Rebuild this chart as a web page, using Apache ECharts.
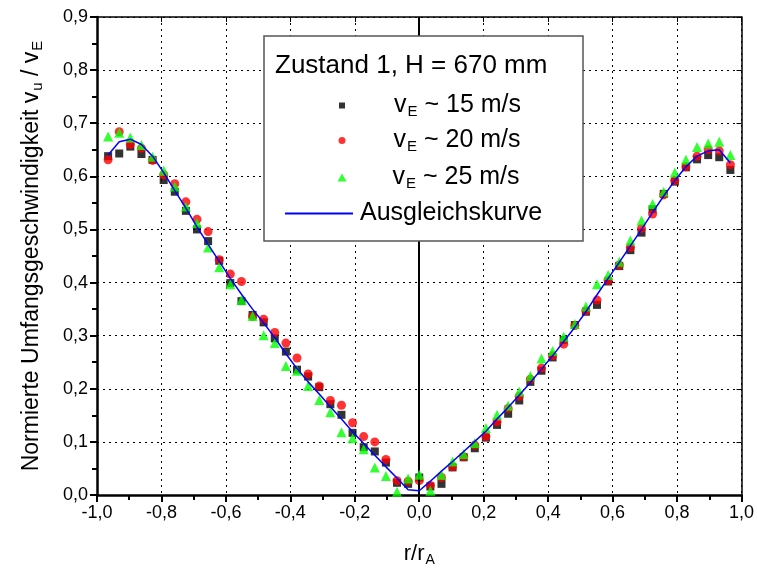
<!DOCTYPE html>
<html>
<head>
<meta charset="utf-8">
<script src="https://cdn.jsdelivr.net/npm/echarts@6/dist/echarts.min.js"></script>
<style>
html,body{margin:0;padding:0;background:#fff;}
#c{width:757px;height:574px;}
</style>
</head>
<body>
<div id="c"></div>
<script>
// r/rA positions (5 mm steps on 145 mm radius)
var xValues = [-0.9655,-0.9310,-0.8966,-0.8621,-0.8276,-0.7931,-0.7586,-0.7241,-0.6897,-0.6552,
  -0.6207,-0.5862,-0.5517,-0.5172,-0.4828,-0.4483,-0.4138,-0.3793,-0.3448,-0.3103,
  -0.2759,-0.2414,-0.2069,-0.1724,-0.1379,-0.1034,-0.0690,-0.0345,0.0,
  0.0345,0.0690,0.1034,0.1379,0.1724,0.2069,0.2414,0.2759,0.3103,0.3448,
  0.3793,0.4138,0.4483,0.4828,0.5172,0.5517,0.5862,0.6207,0.6552,0.6897,
  0.7241,0.7586,0.7931,0.8276,0.8621,0.8966,0.9310,0.9655];

var v15 = [0.638,0.643,0.656,0.642,0.631,0.593,0.571,0.535,0.500,0.478,
  0.441,0.399,0.365,0.339,0.325,0.295,0.270,0.236,0.223,0.203,
  0.171,0.151,0.117,0.090,0.082,0.061,0.023,0.021,0.033,
  0.016,0.021,0.052,0.071,0.088,0.108,0.132,0.153,0.178,0.213,
  0.234,0.259,0.292,0.320,0.345,0.358,0.402,0.431,0.461,0.494,
  0.538,0.567,0.590,0.617,0.632,0.640,0.636,0.612];

var v20 = [0.631,0.684,0.660,0.653,0.630,0.603,0.586,0.552,0.519,0.496,
  0.443,0.416,0.402,0.336,0.331,0.306,0.286,0.258,0.228,0.205,
  0.178,0.169,0.136,0.110,0.100,0.067,0.027,0.026,0.027,
  0.018,0.033,0.053,0.072,0.094,0.110,0.138,0.163,0.186,0.218,
  0.239,0.262,0.284,0.319,0.347,0.367,0.404,0.433,0.466,0.502,
  0.529,0.565,0.592,0.618,0.638,0.650,0.648,0.622];

var v25 = [0.675,0.682,0.673,0.659,0.637,0.611,0.581,0.543,0.512,0.466,
  0.429,0.397,0.367,0.337,0.301,0.286,0.243,0.234,0.205,0.179,
  0.156,0.118,0.107,0.086,0.052,0.036,0.006,0.031,0.038,
  0.008,0.038,0.063,0.077,0.098,0.126,0.151,0.168,0.195,0.224,
  0.257,0.271,0.298,0.322,0.355,0.397,0.414,0.439,0.479,0.517,
  0.548,0.571,0.607,0.631,0.655,0.662,0.665,0.640];

var fit = [0.640,0.665,0.670,0.660,0.638,0.607,0.573,0.540,0.505,0.472,
  0.440,0.408,0.378,0.350,0.324,0.296,0.266,0.238,0.213,0.190,
  0.166,0.143,0.119,0.097,0.075,0.053,0.032,0.010,0.008,
  0.026,0.045,0.063,0.082,0.101,0.120,0.143,0.165,0.188,0.212,
  0.237,0.262,0.289,0.316,0.345,0.377,0.408,0.438,0.469,0.500,
  0.532,0.563,0.592,0.618,0.638,0.648,0.650,0.625];

var xTicks = {min: -1, max: 1, interval: 0.2};
var yTicks = {min: 0, max: 0.9, interval: 0.1};

var legendTitle = 'Zustand 1, H = 670 mm';
var legendLabels = {
  v15: 'v{sub|E} ~ 15 m/s',
  v20: 'v{sub|E} ~ 20 m/s',
  v25: 'v{sub|E} ~ 25 m/s',
  'Ausgleichskurve': 'Ausgleichskurve'
};

function pairs(ys){ return xValues.map(function(x,i){ return [x, ys[i]]; }); }
function comma(v){ return v.toFixed(1).replace('.', ','); }

var FONT = 'Liberation Sans, Arial, sans-serif';
var NARROW = 'Liberation Sans Narrow, Arial Narrow, Liberation Sans, sans-serif';

function legendFor(name, top, icon, w, h, padLeft, left){
  return {
    data: [{name: name, icon: icon}],
    orient: 'vertical', left: left, top: top,
    itemWidth: w, itemHeight: h, z: 20,
    selectedMode: false,
    formatter: function(n){ return legendLabels[n]; },
    textStyle: {fontSize: 25, fontFamily: FONT, color: '#000', padding: [0,0,0,padLeft], rich: {
      sub: {fontSize: 15, fontFamily: FONT, color: '#000', verticalAlign: 'bottom', padding: [13, 0, 0, 1]}
    }}
  };
}

var chart = echarts.init(document.getElementById('c'), null, {renderer: 'canvas'});
var option = {
  backgroundColor: '#fff',
  animation: false,
  grid: {left: 97, right: 14, top: 17, bottom: 79, containLabel: false},
  xAxis: [{
    type: 'value', min: xTicks.min, max: xTicks.max, interval: xTicks.interval,
    name: 'r/r{sub|A}', nameLocation: 'middle', nameGap: 46,
    nameTextStyle: {fontSize: 22, fontFamily: FONT, color: '#000', rich: {
      sub: {fontSize: 14, fontFamily: FONT, color: '#000', verticalAlign: 'bottom', padding: [12, 0, 0, 1]}
    }},
    axisLine: {show: true, onZero: false, lineStyle: {color: '#000', width: 2.5}},
    axisTick: {show: true, inside: false, length: 7, lineStyle: {color: '#000', width: 2}},
    minorTick: {show: true, splitNumber: 2, length: 5, lineStyle: {color: '#000', width: 2}},
    axisLabel: {formatter: comma, fontSize: 18, fontFamily: NARROW, color: '#000', margin: 9},
    splitLine: {show: true, lineStyle: {color: '#000', width: 1, type: [2, 4]}}
  }, {
    type: 'value', position: 'top', min: xTicks.min, max: xTicks.max, interval: xTicks.interval,
    axisLine: {show: true, onZero: false, lineStyle: {color: '#000', width: 1.5}},
    axisTick: {show: true, inside: true, length: 5, lineStyle: {color: '#000', width: 1}},
    axisLabel: {show: false}, splitLine: {show: false}
  }],
  yAxis: [{
    type: 'value', min: yTicks.min, max: yTicks.max, interval: yTicks.interval,
    name: 'Normierte Umfangsgeschwindigkeit v{sub|u} / v{sub|E}',
    nameLocation: 'middle', nameGap: 52, nameRotate: 90,
    nameTextStyle: {fontSize: 23, fontFamily: FONT, color: '#000', rich: {
      sub: {fontSize: 15, fontFamily: FONT, color: '#000', verticalAlign: 'bottom', padding: [12, 0, 0, 1]}
    }},
    axisLine: {show: true, onZero: false, lineStyle: {color: '#000', width: 2.5}},
    axisTick: {show: true, inside: false, length: 7, lineStyle: {color: '#000', width: 2}},
    minorTick: {show: true, splitNumber: 2, length: 5, lineStyle: {color: '#000', width: 2}},
    axisLabel: {formatter: comma, fontSize: 18, fontFamily: NARROW, color: '#000', margin: 9},
    splitLine: {show: true, lineStyle: {color: '#000', width: 1, type: [2, 4]}}
  }, {
    type: 'value', position: 'right', min: yTicks.min, max: yTicks.max, interval: yTicks.interval,
    axisLine: {show: true, onZero: false, lineStyle: {color: '#000', width: 1.5}},
    axisTick: {show: true, inside: true, length: 5, lineStyle: {color: '#000', width: 1}},
    axisLabel: {show: false}, splitLine: {show: false}
  }],
  legend: [
    legendFor('v15', 88, 'rect', 6, 6, 44, 334),
    legendFor('v20', 123, 'circle', 7, 7, 43, 333.5),
    legendFor('v25', 160, 'triangle', 9, 8, 41, 332.5),
    legendFor('Ausgleichskurve', 196, 'rect', 68, 2, 2, 280)
  ],
  graphic: [
    {type: 'rect', shape: {x: 264, y: 36, width: 319, height: 205}, z: 10,
     style: {fill: '#fff', stroke: '#555', lineWidth: 1.5}},
    {type: 'text', x: 275, y: 53, z: 20,
     style: {text: legendTitle, fontSize: 26, fontFamily: FONT, fill: '#000'}}
  ],
  series: [
    {name: 'v15', type: 'scatter', symbol: 'rect', symbolSize: 8, data: pairs(v15),
     itemStyle: {color: '#000'}, z: 3},
    {name: 'v20', type: 'scatter', symbol: 'circle', symbolSize: 9, data: pairs(v20),
     itemStyle: {color: '#ff0000'}, z: 4},
    {name: 'v25', type: 'scatter', symbol: 'triangle', symbolSize: 10, data: pairs(v25),
     itemStyle: {color: '#00ff00'}, z: 5},
    {name: 'Ausgleichskurve', type: 'line', data: pairs(fit), showSymbol: false, symbol: 'none',
     lineStyle: {color: '#0000ff', width: 1.5}, itemStyle: {color: '#0000ff'}, z: 6,
     markLine: {silent: true, symbol: 'none', label: {show: false},
       lineStyle: {color: '#000', width: 2, type: 'solid'}, data: [{xAxis: 0}]}}
  ]
};
chart.setOption(option);
</script>
</body>
</html>
